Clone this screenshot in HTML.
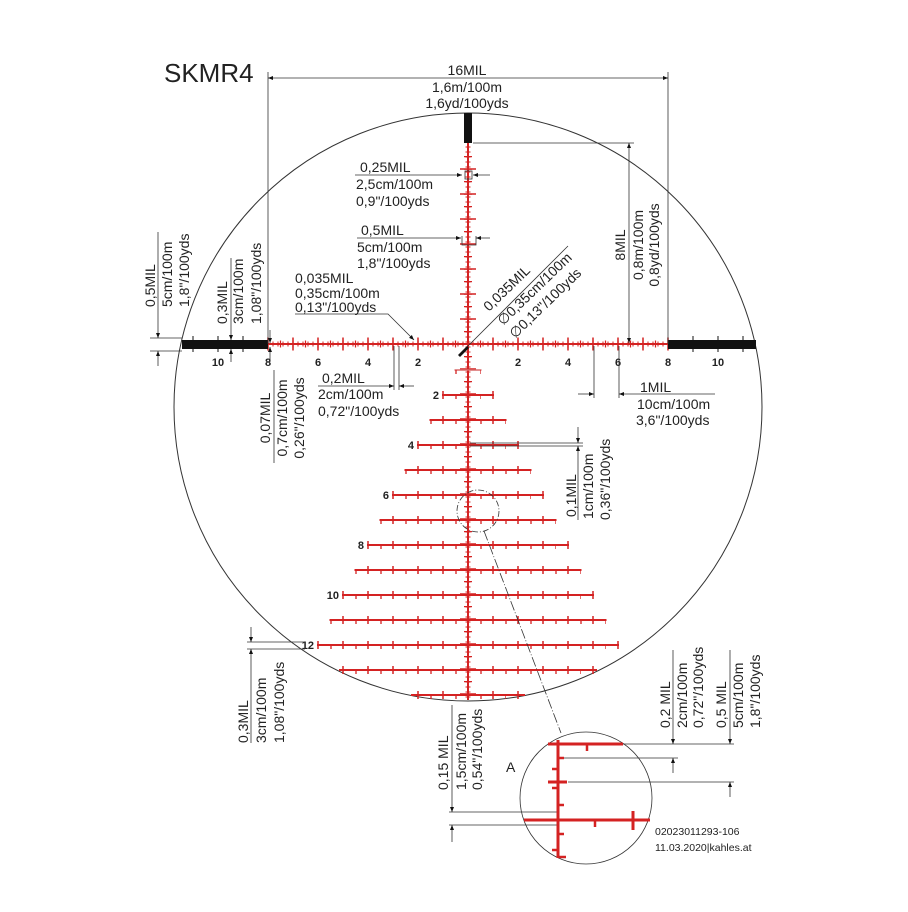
<!DOCTYPE html>
<html><head><meta charset="utf-8"><style>
html,body{margin:0;padding:0;background:#fff;}
svg{display:block;}
text{font-family:"Liberation Sans",sans-serif;fill:#222;}
.t{font-size:14px;}
.b{font-size:11px;font-weight:bold;}
</style></head><body>
<svg width="908" height="912" viewBox="0 0 908 912" xmlns="http://www.w3.org/2000/svg">
<defs>
<marker id="a" viewBox="0 0 10 10" refX="10" refY="5" markerUnits="userSpaceOnUse" markerWidth="10" markerHeight="5" orient="auto-start-reverse"><path d="M0,1L10,5L0,9z" fill="#111"/></marker>
</defs>
<rect width="908" height="912" fill="#fff"/>
<text x="164" y="82" style="font-size:26px">SKMR4</text>
<circle cx="468" cy="407" r="294" fill="none" stroke="#333" stroke-width="1"/>

<!-- RED RETICLE -->
<g stroke="#d42222" fill="none">
<line x1="268" y1="344" x2="668" y2="344" stroke-width="2"/>
<line x1="468" y1="143" x2="468" y2="700" stroke-width="2"/>
<!-- horizontal ticks -->
<line x1="267.5" y1="344" x2="669" y2="344" stroke-width="5" stroke-dasharray="1 4"/>
<line x1="279.9" y1="344" x2="657" y2="344" stroke-width="7" stroke-dasharray="1.2 11.3"/>
<line x1="267.25" y1="344" x2="669" y2="344" stroke-width="13" stroke-dasharray="1.5 23.5"/>
<!-- vertical ticks -->
<line x1="468" y1="146.5" x2="468" y2="699" stroke-width="5" stroke-dasharray="1 4"/>
<line x1="468" y1="156" x2="468" y2="699" stroke-width="8" stroke-dasharray="1.2 11.3"/>
<line x1="468" y1="168.25" x2="468" y2="699" stroke-width="16" stroke-dasharray="1.5 23.5"/>
<!-- rows -->
<g stroke-width="2">
<line x1="454.5" y1="370" x2="481.5" y2="370" stroke-width="1.5" stroke="#d86a6a"/>
<line x1="442" y1="395" x2="494" y2="395"/>
<line x1="429.5" y1="420" x2="506.5" y2="420"/>
<line x1="417" y1="445" x2="519" y2="445"/>
<line x1="404.5" y1="470" x2="531.5" y2="470"/>
<line x1="392" y1="495" x2="544" y2="495"/>
<line x1="379.5" y1="520" x2="556.5" y2="520"/>
<line x1="367" y1="545" x2="569" y2="545"/>
<line x1="354.5" y1="570" x2="581.5" y2="570"/>
<line x1="342" y1="595" x2="594" y2="595"/>
<line x1="329.5" y1="620" x2="606.5" y2="620"/>
<line x1="317" y1="645" x2="619" y2="645"/>
<line x1="339" y1="670" x2="597" y2="670"/>
<line x1="411" y1="695" x2="525" y2="695"/>
</g>
<g stroke-width="8" stroke-dasharray="1.5 23.5">
<line x1="442.25" y1="395" x2="494" y2="395"/>
<line x1="442.25" y1="420" x2="494" y2="420"/>
<line x1="417.25" y1="445" x2="519" y2="445"/>
<line x1="417.25" y1="470" x2="519" y2="470"/>
<line x1="392.25" y1="495" x2="544" y2="495"/>
<line x1="392.25" y1="520" x2="544" y2="520"/>
<line x1="367.25" y1="545" x2="569" y2="545"/>
<line x1="367.25" y1="570" x2="569" y2="570"/>
<line x1="342.25" y1="595" x2="594" y2="595"/>
<line x1="342.25" y1="620" x2="594" y2="620"/>
<line x1="317.25" y1="645" x2="619" y2="645"/>
<line x1="342.25" y1="670" x2="594" y2="670"/>
<line x1="417.25" y1="695" x2="519" y2="695"/>
</g>
<g stroke-width="4" stroke-dasharray="1.3 23.7">
<line x1="455.35" y1="372" x2="481" y2="372"/>
<line x1="455.35" y1="397" x2="481" y2="397"/>
<line x1="430.35" y1="422" x2="506" y2="422"/>
<line x1="430.35" y1="447" x2="506" y2="447"/>
<line x1="405.35" y1="472" x2="531" y2="472"/>
<line x1="405.35" y1="497" x2="531" y2="497"/>
<line x1="380.35" y1="522" x2="556" y2="522"/>
<line x1="380.35" y1="547" x2="556" y2="547"/>
<line x1="355.35" y1="572" x2="581" y2="572"/>
<line x1="355.35" y1="597" x2="581" y2="597"/>
<line x1="330.35" y1="622" x2="606" y2="622"/>
<line x1="330.35" y1="647" x2="606" y2="647"/>
<line x1="355.35" y1="672" x2="581" y2="672"/>
<line x1="430.35" y1="697" x2="506" y2="697"/>
</g>
</g>

<!-- posts -->
<rect x="182" y="340" width="86" height="9" fill="#111"/>
<rect x="668" y="340" width="88" height="9" fill="#111"/>
<rect x="464" y="113" width="8" height="30" fill="#111"/>
<g stroke="#111" stroke-width="1">
<line x1="193" y1="336" x2="193" y2="352"/><line x1="218" y1="336" x2="218" y2="352"/><line x1="243" y1="336" x2="243" y2="352"/>
<line x1="693" y1="336" x2="693" y2="352"/><line x1="718" y1="336" x2="718" y2="352"/><line x1="743" y1="336" x2="743" y2="352"/>
</g>
<g class="b" text-anchor="middle">
<text x="218" y="366">10</text><text x="268" y="366">8</text><text x="318" y="366">6</text><text x="368" y="366">4</text><text x="418" y="366">2</text>
<text x="518" y="366">2</text><text x="568" y="366">4</text><text x="618" y="366">6</text><text x="668" y="366">8</text><text x="718" y="366">10</text>
</g>
<g class="b" text-anchor="end">
<text x="439" y="399">2</text><text x="414" y="449">4</text><text x="389" y="499">6</text><text x="364" y="549">8</text><text x="339" y="599">10</text><text x="314" y="649">12</text>
</g>
<g stroke="#333" stroke-width="0.8" fill="none">
<line x1="268" y1="72" x2="268" y2="344"/><line x1="668" y1="72" x2="668" y2="344"/>
<line x1="268" y1="78" x2="668" y2="78" marker-start="url(#a)" marker-end="url(#a)"/>
<line x1="473" y1="143" x2="634" y2="143"/>
<line x1="629" y1="143" x2="629" y2="343" marker-start="url(#a)" marker-end="url(#a)"/>
<line x1="355" y1="175" x2="462" y2="175" marker-end="url(#a)"/>
<line x1="490" y1="175" x2="473" y2="175" marker-end="url(#a)"/>
<rect x="465" y="171" width="7" height="8"/>
<line x1="357" y1="238" x2="461" y2="238" marker-end="url(#a)"/>
<line x1="490" y1="238" x2="476" y2="238" marker-end="url(#a)"/>
<path d="M462,236V245H476V236"/>
<path d="M295,314H388L414,340" marker-end="url(#a)"/>
<line x1="568" y1="246" x2="462" y2="352"/>
<line x1="150" y1="338" x2="182" y2="338"/><line x1="150" y1="351" x2="182" y2="351"/>
<line x1="158" y1="232" x2="158" y2="338" marker-end="url(#a)"/>
<line x1="158" y1="366" x2="158" y2="351" marker-end="url(#a)"/>
<line x1="231" y1="258" x2="231" y2="340" marker-end="url(#a)"/>
<line x1="231" y1="362" x2="231" y2="349" marker-end="url(#a)"/>
<line x1="274" y1="370" x2="274" y2="463"/>
<line x1="270" y1="330" x2="270" y2="343" marker-end="url(#a)"/>
<line x1="270" y1="362" x2="270" y2="347" marker-end="url(#a)"/>
<line x1="394" y1="346" x2="394" y2="390"/><line x1="399" y1="346" x2="399" y2="390"/>
<line x1="318" y1="386" x2="394" y2="386" marker-end="url(#a)"/>
<line x1="414" y1="386" x2="399" y2="386" marker-end="url(#a)"/>
<line x1="594" y1="346" x2="594" y2="398"/><line x1="619" y1="346" x2="619" y2="398"/>
<line x1="578" y1="394" x2="594" y2="394" marker-end="url(#a)"/>
<line x1="715" y1="394" x2="619" y2="394" marker-end="url(#a)"/>
<line x1="470" y1="443" x2="583" y2="443"/><line x1="470" y1="446" x2="583" y2="446"/>
<line x1="578" y1="427" x2="578" y2="443" marker-end="url(#a)"/>
<line x1="578" y1="520" x2="578" y2="446" marker-end="url(#a)"/>
<line x1="247" y1="642" x2="305" y2="642"/><line x1="247" y1="649" x2="305" y2="649"/>
<line x1="251" y1="627" x2="251" y2="642" marker-end="url(#a)"/>
<line x1="251" y1="743" x2="251" y2="649" marker-end="url(#a)"/>
<line x1="449" y1="812" x2="558" y2="812"/><line x1="449" y1="825" x2="558" y2="825"/>
<line x1="452" y1="705" x2="452" y2="812" marker-end="url(#a)"/>
<line x1="452" y1="842" x2="452" y2="825" marker-end="url(#a)"/>
<line x1="623" y1="744" x2="734" y2="744"/>
<line x1="562" y1="758" x2="678" y2="758"/>
<line x1="568" y1="782" x2="734" y2="782"/>
<line x1="673" y1="650" x2="673" y2="744" marker-end="url(#a)"/>
<line x1="673" y1="773" x2="673" y2="758" marker-end="url(#a)"/>
<line x1="730" y1="650" x2="730" y2="744" marker-end="url(#a)"/>
<line x1="730" y1="797" x2="730" y2="782" marker-end="url(#a)"/>
<circle cx="478" cy="511" r="21" stroke-dasharray="6,2,1,2"/>
<line x1="484" y1="531" x2="561" y2="733" stroke-dasharray="10,2,1,2"/>
<circle cx="586" cy="798" r="66"/>
</g>
<path d="M458,355l9,-9 2,2 -9,9z" fill="#111"/>
<g stroke="#d42222" stroke-width="3" fill="none">
<line x1="558" y1="740" x2="558" y2="858"/>
<line x1="548" y1="744" x2="623" y2="744"/>
<line x1="524" y1="820" x2="650" y2="820"/>
<line x1="548" y1="782" x2="567" y2="782"/>
<line x1="633" y1="811" x2="633" y2="830"/>
<g stroke-width="2.5">
<line x1="587" y1="744" x2="587" y2="751"/><line x1="595" y1="820" x2="595" y2="827"/>
<line x1="552" y1="769" x2="558" y2="769"/><line x1="552" y1="788" x2="558" y2="788"/>
<line x1="558" y1="758" x2="564" y2="758"/><line x1="558" y1="805" x2="564" y2="805"/>
<line x1="558" y1="834" x2="564" y2="834"/><line x1="552" y1="850" x2="558" y2="850"/>
<line x1="558" y1="857" x2="566" y2="857"/>
</g>
</g>
<text x="506" y="772" class="t">A</text>
<text x="655" y="835" style="font-size:10.5px">02023011293-106</text>
<text x="655" y="851" style="font-size:10.5px">11.03.2020|kahles.at</text>
<g class="t">
<text x="467" y="75" text-anchor="middle">16MIL</text>
<text x="467" y="92" text-anchor="middle">1,6m/100m</text>
<text x="467" y="108" text-anchor="middle">1,6yd/100yds</text>
<text x="360" y="172">0,25MIL</text>
<text x="356" y="189">2,5cm/100m</text>
<text x="356" y="206">0,9"/100yds</text>
<text x="361" y="235">0,5MIL</text>
<text x="357" y="252">5cm/100m</text>
<text x="357" y="268">1,8"/100yds</text>
<text x="295" y="283">0,035MIL</text>
<text x="295" y="298">0,35cm/100m</text>
<text x="295" y="312">0,13"/100yds</text>
<text x="322" y="383">0,2MIL</text>
<text x="318" y="399">2cm/100m</text>
<text x="318" y="416">0,72"/100yds</text>
<text x="640" y="392">1MIL</text>
<text x="637" y="409">10cm/100m</text>
<text x="636" y="425">3,6"/100yds</text>
</g>
<g class="t">
<text transform="translate(489,312) rotate(-44)">0,035MIL</text>
<text transform="translate(503,326) rotate(-44)">∅0,35cm/100m</text>
<text transform="translate(515,339) rotate(-44)">∅0,13"/100yds</text>
</g>
<g class="t">
<text transform="translate(155,307) rotate(-90)">0,5MIL</text>
<text transform="translate(172,307) rotate(-90)">5cm/100m</text>
<text transform="translate(189,307) rotate(-90)">1,8"/100yds</text>
<text transform="translate(227,324) rotate(-90)">0,3MIL</text>
<text transform="translate(243,324) rotate(-90)">3cm/100m</text>
<text transform="translate(261,324) rotate(-90)">1,08"/100yds</text>
<text transform="translate(270,418) rotate(-90)" text-anchor="middle">0,07MIL</text>
<text transform="translate(287,418) rotate(-90)" text-anchor="middle">0,7cm/100m</text>
<text transform="translate(304,418) rotate(-90)" text-anchor="middle">0,26"/100yds</text>
<text transform="translate(625,245) rotate(-90)" text-anchor="middle">8MIL</text>
<text transform="translate(643,245) rotate(-90)" text-anchor="middle">0,8m/100m</text>
<text transform="translate(659,245) rotate(-90)" text-anchor="middle">0,8yd/100yds</text>
<text transform="translate(576,517) rotate(-90)">0,1MIL</text>
<text transform="translate(593,519) rotate(-90)">1cm/100m</text>
<text transform="translate(610,520) rotate(-90)">0,36"/100yds</text>
<text transform="translate(248,743) rotate(-90)">0,3MIL</text>
<text transform="translate(266,743) rotate(-90)">3cm/100m</text>
<text transform="translate(284,743) rotate(-90)">1,08"/100yds</text>
<text transform="translate(448,790) rotate(-90)">0,15 MIL</text>
<text transform="translate(466,790) rotate(-90)">1,5cm/100m</text>
<text transform="translate(482,790) rotate(-90)">0,54"/100yds</text>
<text transform="translate(670,728) rotate(-90)">0,2 MIL</text>
<text transform="translate(687,728) rotate(-90)">2cm/100m</text>
<text transform="translate(703,728) rotate(-90)">0,72"/100yds</text>
<text transform="translate(726,728) rotate(-90)">0,5 MIL</text>
<text transform="translate(743,728) rotate(-90)">5cm/100m</text>
<text transform="translate(760,728) rotate(-90)">1,8"/100yds</text>
</g>
</svg>
</body></html>
